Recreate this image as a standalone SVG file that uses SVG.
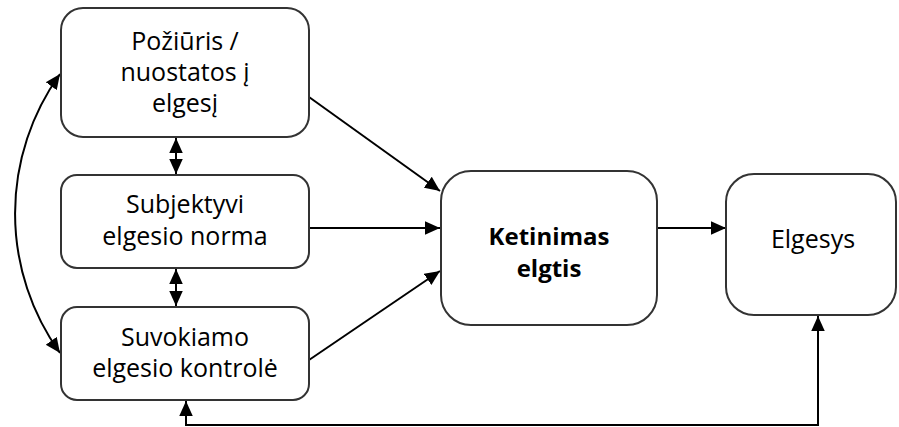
<svg xmlns="http://www.w3.org/2000/svg" width="899" height="427" viewBox="0 0 899 427">
<style>
.box{fill:#fff;stroke:#333;stroke-width:2}
.t{font-family:"Open Sans","Liberation Sans",sans-serif;font-size:25px;fill:#000;text-anchor:middle}
.b{font-weight:bold;font-size:24px}
.c{fill:none;stroke:#000;stroke-width:2}
</style>
<defs>
<marker id="a" viewBox="0 0 10 10" refX="10" refY="5" markerWidth="15" markerHeight="15" markerUnits="userSpaceOnUse" orient="auto-start-reverse">
<path d="M0,0.5 L10,5 L0,9.5 z" fill="#000"/>
</marker>
</defs>
<g id="connectors">
<path class="c" d="M176,138 L176,174" marker-start="url(#a)" marker-end="url(#a)"/>
<path class="c" d="M176,269 L176,306" marker-start="url(#a)" marker-end="url(#a)"/>
<path class="c" d="M60,74 A239,239 0 0,0 60,353" marker-start="url(#a)" marker-end="url(#a)"/>
<path class="c" d="M309,97 L440,191" marker-end="url(#a)"/>
<path class="c" d="M309,228 L440,228" marker-end="url(#a)"/>
<path class="c" d="M309,360 L440,271" marker-end="url(#a)"/>
<path class="c" d="M657,228 L726,228" marker-end="url(#a)"/>
<path class="c" d="M186,401 L186,425 L818,425 L818,316" marker-start="url(#a)" marker-end="url(#a)"/>
</g>
<g id="n1">
<rect class="box" x="61" y="8" width="248" height="129" rx="22"/>
<text class="t" x="185" y="50">Požiūris /</text>
<text class="t" x="185" y="81">nuostatos į</text>
<text class="t" x="185" y="112">elgesį</text>
</g>
<g id="n2">
<rect class="box" x="61" y="175" width="248" height="93" rx="16"/>
<text class="t" x="185" y="213">Subjektyvi</text>
<text class="t" x="185" y="245">elgesio norma</text>
</g>
<g id="n3">
<rect class="box" x="61" y="307" width="248" height="93" rx="16"/>
<text class="t" x="185" y="346">Suvokiamo</text>
<text class="t" x="185" y="377">elgesio kontrolė</text>
</g>
<g id="n4">
<rect class="box" x="441" y="171" width="216" height="154" rx="30"/>
<text class="t b" x="549" y="245">Ketinimas</text>
<text class="t b" x="549" y="277">elgtis</text>
</g>
<g id="n5">
<rect class="box" x="726" y="174" width="170" height="141" rx="28"/>
<text class="t" x="813" y="248">Elgesys</text>
</g>
</svg>
